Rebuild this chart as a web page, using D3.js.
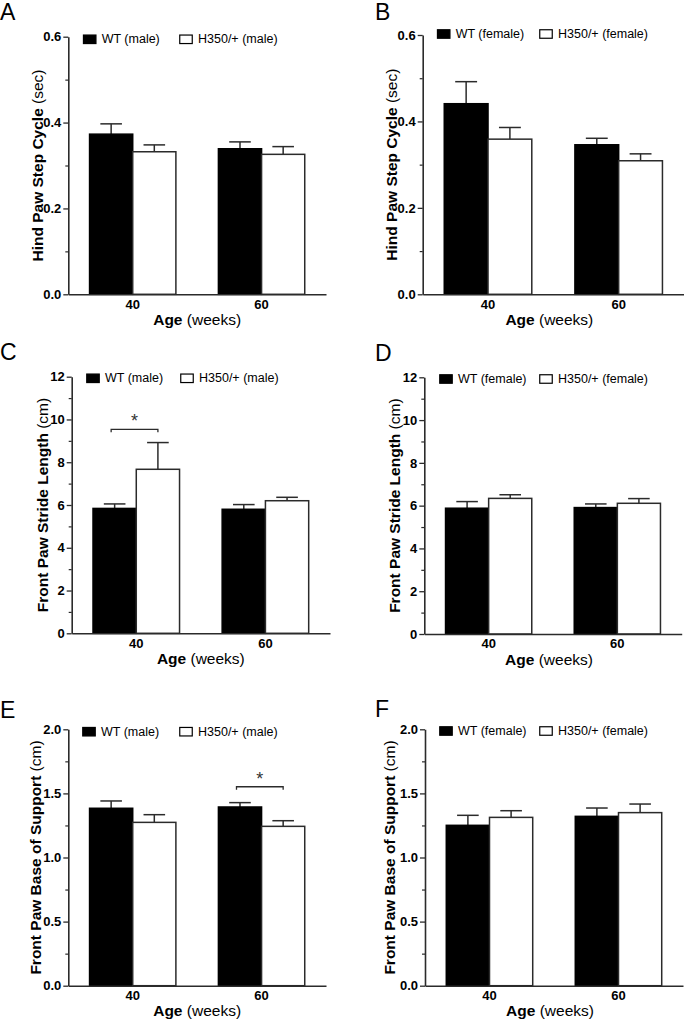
<!DOCTYPE html>
<html>
<head>
<meta charset="utf-8">
<script src="https://cdn.jsdelivr.net/npm/d3@7"></script>
<style>
  html, body { margin: 0; padding: 0; background: #fff; }
  svg { display: block; font-family: "Liberation Sans", Arial, sans-serif; }
</style>
</head>
<body>
<svg id="chart" width="684" height="1020"></svg>
<script>
// ---------------- DATA ----------------
const categories = ["40", "60"];
const panelLetters = ["A", "B", "C", "D", "E", "F"];

const stepCycleMaleWT = [0.373, 0.339];
const stepCycleMaleWTErr = [0.024, 0.016];
const stepCycleMaleH350 = [0.332, 0.326];
const stepCycleMaleH350Err = [0.016, 0.018];
const stepCycleFemaleWT = [0.441, 0.346];
const stepCycleFemaleWTErr = [0.051, 0.015];
const stepCycleFemaleH350 = [0.359, 0.309];
const stepCycleFemaleH350Err = [0.027, 0.016];

const strideMaleWT = [5.84, 5.80];
const strideMaleWTErr = [0.21, 0.22];
const strideMaleH350 = [7.67, 6.20];
const strideMaleH350Err = [1.25, 0.16];
const strideFemaleWT = [5.88, 5.91];
const strideFemaleWTErr = [0.31, 0.17];
const strideFemaleH350 = [6.34, 6.11];
const strideFemaleH350Err = [0.17, 0.22];

const baseMaleWT = [1.384, 1.394];
const baseMaleWTErr = [0.057, 0.034];
const baseMaleH350 = [1.274, 1.243];
const baseMaleH350Err = [0.060, 0.044];
const baseFemaleWT = [1.251, 1.321];
const baseFemaleWTErr = [0.078, 0.065];
const baseFemaleH350 = [1.313, 1.350];
const baseFemaleH350Err = [0.052, 0.067];

const stepTicks = [0.0, 0.2, 0.4, 0.6];
const stepTickLabels = ["0.0", "0.2", "0.4", "0.6"];
const stepMinor = [0.1, 0.3, 0.5];
const strideTicks = [0, 2, 4, 6, 8, 10, 12];
const strideTickLabels = ["0", "2", "4", "6", "8", "10", "12"];
const strideMinor = [1, 3, 5, 7, 9, 11];
const baseTicks = [0.0, 0.5, 1.0, 1.5, 2.0];
const baseTickLabels = ["0.0", "0.5", "1.0", "1.5", "2.0"];
const baseMinor = [0.25, 0.75, 1.25, 1.75];

const legendMale = ["WT (male)", "H350/+ (male)"];
const legendFemale = ["WT (female)", "H350/+ (female)"];

const titleStep = ["Hind Paw Step Cycle", " (sec)"];
const titleStride = ["Front Paw Stride Length", " (cm)"];
const titleBase = ["Front Paw Base of Support", " (cm)"];
const titleAge = ["Age", " (weeks)"];

// significance brackets: [panel index, category index, y value]
const sigBrackets = [[2, 0, 9.54], [4, 1, 1.552]];

// ---------------- PANELS ----------------
const panels = [
  { wt: stepCycleMaleWT, wtE: stepCycleMaleWTErr, mu: stepCycleMaleH350, muE: stepCycleMaleH350Err,
    max: 0.6, ticks: stepTicks, labels: stepTickLabels, minor: stepMinor, legend: legendMale, title: titleStep },
  { wt: stepCycleFemaleWT, wtE: stepCycleFemaleWTErr, mu: stepCycleFemaleH350, muE: stepCycleFemaleH350Err,
    max: 0.6, ticks: stepTicks, labels: stepTickLabels, minor: stepMinor, legend: legendFemale, title: titleStep },
  { wt: strideMaleWT, wtE: strideMaleWTErr, mu: strideMaleH350, muE: strideMaleH350Err,
    max: 12, ticks: strideTicks, labels: strideTickLabels, minor: strideMinor, legend: legendMale, title: titleStride },
  { wt: strideFemaleWT, wtE: strideFemaleWTErr, mu: strideFemaleH350, muE: strideFemaleH350Err,
    max: 12, ticks: strideTicks, labels: strideTickLabels, minor: strideMinor, legend: legendFemale, title: titleStride },
  { wt: baseMaleWT, wtE: baseMaleWTErr, mu: baseMaleH350, muE: baseMaleH350Err,
    max: 2.0, ticks: baseTicks, labels: baseTickLabels, minor: baseMinor, legend: legendMale, title: titleBase },
  { wt: baseFemaleWT, wtE: baseFemaleWTErr, mu: baseFemaleH350, muE: baseFemaleH350Err,
    max: 2.0, ticks: baseTicks, labels: baseTickLabels, minor: baseMinor, legend: legendFemale, title: titleBase }
];

// layout (positions only)
const layout = [
  { left: 68.3, right: 326, top: 36.7, bottom: 294.3, lx: 0, ly: 20, titleX: 43, legY: 34.3, legX: 82.7, legX2: 179 },
  { left: 422.7, right: 684, top: 35, bottom: 294.3, lx: 375, ly: 19.5, titleX: 396.5, legY: 29, legX: 436.7, legX2: 539 },
  { left: 71.7, right: 330, top: 376.7, bottom: 633.3, lx: 0, ly: 360, titleX: 48, legY: 373.3, legX: 86, legX2: 180 },
  { left: 424.3, right: 681.7, top: 377.3, bottom: 634, lx: 375, ly: 361, titleX: 400, legY: 374, legX: 439, legX2: 539 },
  { left: 68.3, right: 326, top: 729.3, bottom: 985.7, lx: 0, ly: 718, titleX: 40.5, legY: 726.7, legX: 82, legX2: 179 },
  { left: 425, right: 683, top: 729.3, bottom: 985.7, lx: 375, ly: 717, titleX: 394.5, legY: 726, legX: 439, legX2: 539 }
];

const svg = d3.select("#chart");
const axisColor = "#2b2b2b";

panels.forEach((p, i) => {
  const L = layout[i];
  const g = svg.append("g");

  const x = d3.scaleBand().domain(categories).range([L.left, L.right]).paddingInner(0.33).paddingOuter(0.165);
  const xs = d3.scaleBand().domain(["wt", "mu"]).range([0, x.bandwidth()]);
  const y = d3.scaleLinear().domain([0, p.max]).range([L.bottom, L.top]);

  // bars
  const series = [
    { key: "wt", vals: p.wt, errs: p.wtE, fill: "#000" },
    { key: "mu", vals: p.mu, errs: p.muE, fill: "#fff" }
  ];
  series.forEach(s => {
    categories.forEach((c, ci) => {
      const bx = x(c) + xs(s.key);
      const bw = xs.bandwidth();
      const cx = bx + bw / 2;
      const v = s.vals[ci], e = s.errs[ci];
      // error bar (upper only)
      g.append("line").attr("x1", cx).attr("x2", cx).attr("y1", y(v)).attr("y2", y(v + e))
        .attr("stroke", axisColor).attr("stroke-width", 1.5);
      g.append("line").attr("x1", cx - bw / 4).attr("x2", cx + bw / 4).attr("y1", y(v + e)).attr("y2", y(v + e))
        .attr("stroke", axisColor).attr("stroke-width", 1.5);
      g.append("rect").attr("x", bx).attr("y", y(v)).attr("width", bw).attr("height", y(0) - y(v))
        .attr("fill", s.fill).attr("stroke", s.key === "wt" ? "#000" : axisColor).attr("stroke-width", 1.5);
    });
  });

  // y axis major
  const yAxis = d3.axisLeft(y).tickValues(p.ticks).tickFormat((d, k) => p.labels[k])
    .tickSize(5).tickPadding(2).tickSizeOuter(0);
  const ya = g.append("g").attr("transform", `translate(${L.left},0)`).call(yAxis);
  ya.select(".domain").attr("stroke", axisColor).attr("stroke-width", 1.6);
  ya.selectAll(".tick line").attr("stroke", axisColor).attr("stroke-width", 1.3);
  ya.selectAll(".tick text").attr("fill", "#000").style("font-size", "13px").style("font-weight", "bold")
    .style("font-family", "'Liberation Sans', Arial, sans-serif");
  // y minor ticks
  const yMinor = d3.axisLeft(y).tickValues(p.minor).tickFormat("").tickSize(3).tickSizeOuter(0);
  const ym = g.append("g").attr("transform", `translate(${L.left},0)`).call(yMinor);
  ym.select(".domain").remove();
  ym.selectAll(".tick line").attr("stroke", axisColor).attr("stroke-width", 1.2);

  // x axis
  const xAxis = d3.axisBottom(x).tickSize(0).tickPadding(5).tickSizeOuter(0);
  const xa = g.append("g").attr("transform", `translate(0,${y(0)})`).call(xAxis);
  xa.select(".domain").attr("stroke", axisColor).attr("stroke-width", 1.6);
  xa.selectAll(".tick text").attr("fill", "#000").style("font-size", "13px").style("font-weight", "bold")
    .style("font-family", "'Liberation Sans', Arial, sans-serif");

  // y title
  const yt = g.append("text")
    .attr("transform", `translate(${L.titleX},${(L.top + L.bottom) / 2}) rotate(-90)`)
    .attr("text-anchor", "middle").style("font-size", "15.5px").attr("fill", "#000");
  yt.append("tspan").style("font-weight", "bold").text(p.title[0]);
  yt.append("tspan").text(p.title[1]);

  // x title
  const xt = g.append("text")
    .attr("x", (L.left + L.right) / 2 + (i % 2 === 1 ? -4 : 0)).attr("y", L.bottom + 30.5)
    .attr("text-anchor", "middle").style("font-size", "15.5px").attr("fill", "#000");
  xt.append("tspan").style("font-weight", "bold").text(titleAge[0]);
  xt.append("tspan").text(titleAge[1]);

  // panel letter
  g.append("text").attr("x", L.lx).attr("y", L.ly).style("font-size", "23px").attr("fill", "#000")
    .text(panelLetters[i]);

  // legend
  const legXs = [L.legX, L.legX2];
  series.forEach((s, k) => {
    g.append("rect").attr("x", legXs[k] + 0.75).attr("y", L.legY + 0.75).attr("width", 12.5).attr("height", 8.5)
      .attr("fill", s.fill).attr("stroke", "#000").attr("stroke-width", 1.2);
    g.append("text").attr("x", legXs[k] + 19).attr("y", L.legY + 9)
      .style("font-size", "12.5px").attr("fill", "#000").text(p.legend[k]);
  });

  // significance
  sigBrackets.filter(b => b[0] === i).forEach(b => {
    const c = categories[b[1]];
    const x1 = x(c) + xs("wt") + xs.bandwidth() / 2 - 3.5;
    const x2 = x(c) + xs("mu") + xs.bandwidth() / 2;
    const yy = y(b[2]);
    g.append("path").attr("d", `M${x1},${yy + 3}V${yy}H${x2}V${yy + 3}`)
      .attr("fill", "none").attr("stroke", axisColor).attr("stroke-width", 1.3);
    g.append("text").attr("x", (x1 + x2) / 2).attr("y", yy - 2).attr("text-anchor", "middle")
      .style("font-size", "18px").attr("fill", "#333").text("*");
  });
});
</script>
</body>
</html>
